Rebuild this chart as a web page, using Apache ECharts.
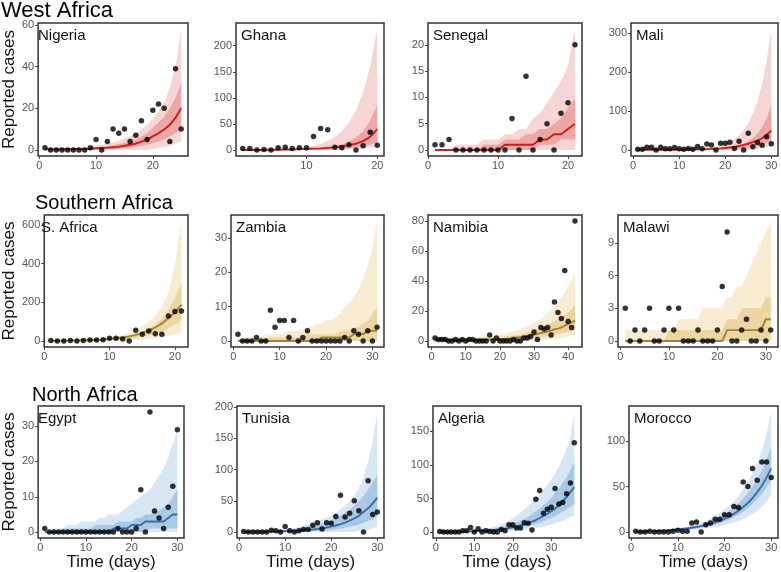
<!DOCTYPE html>
<html>
<head>
<meta charset="utf-8">
<title>Reported cases by country</title>
<script src="https://cdn.jsdelivr.net/npm/echarts@6/dist/echarts.min.js"></script>
<style>
  body { margin: 0; background: #fff; }
  #main { width: 781px; height: 572px; }
</style>
</head>
<body>
<div id="main"></div>
<script>
// daily reported cases (dots) + fitted median and 50% / 95% bands, day 1..n

// --- West Africa ---
var nigeriaObs  = [1,0,0,0,0,0,0,0,1,5,0,4,10,8,10,4,7,14,5,19,22,20,4,39,10];
var nigeriaMed  = [0.3,0.3,0.3,0.3,0.3,0.4,0.4,0.5,0.6,0.8,1,1.1,1.3,1.5,2,2.5,3,4,5,6.5,8,9.8,12,15.5,20];
var nigeriaHi95 = [1,1,1,1,1,1,1.2,1.4,1.7,2,2.5,3,3.6,4.4,5.4,6.6,8,9.8,12,15,18.5,23,30,40,58];
var nigeriaLo95 = [0,0,0,0,0,0,0,0,0,0,0,0,0,0,0,0,0,0,0,0.5,1,1.5,2,3,4];
var nigeriaHi50 = [0.8,0.8,0.8,0.8,0.8,0.8,0.8,0.8,0.9,1.2,1.5,1.8,2.2,2.7,3.3,4,5,6.5,8,10.6,13,16,20,25,32];
var nigeriaLo50 = [0,0,0,0,0,0,0,0,0.1,0.2,0.3,0.4,0.5,0.6,1,1.2,1.5,2,2.5,3.2,4,5,6.5,8,10];

var ghanaObs  = [3,3,0,1,0,4,5,3,4,4,26,41,39,5,4,10,0,8,34,9];
var ghanaMed  = [0,0,0,0,0.5,0.5,1,1,1.5,2,2.5,3,4,5,7,9,12,17,25,40];
var ghanaHi95 = [1,1,1,1.5,1.5,2,2,2.5,3.5,5.5,8,12,17,25,36,52,76,110,160,232];
var ghanaLo95 = [0,0,0,0,0,0,0,0,0,0,0,0,0,0,0,1,2,3,5,8];
var ghanaHi50 = [2,2,2,2,2,2,2,2,2,2.5,3,4,5.5,7.5,11,16,24,36,56,87];
var ghanaLo50 = [0,0,0,0,0,0,0,0,0,0,0.5,0.5,1,2,2.5,3.5,5,7,10,15];

var senegalObs  = [1,1,2,0,0,0,0,0,0,0,0,6,0,14,0,2,5,0,7,9,20];
var senegalMed  = [0,0,0,0,0,0,0,0,0,0,1,1,1,1,1,2,2,3,3,4,5];
var senegalHi95 = [0,0,0,1,1,1,1,2,2,2,3,3,4,4,6,7,9,11,13,16,23];
var senegalLo95 = [0,0,0,0,0,0,0,0,0,0,0,0,0,0,0,0,0,0,0,0,0];
var senegalHi50 = [0,0,0,0,0,0,0,1,1,1,2,2,2,3,3,4,4,5,6,8,10];
var senegalLo50 = [0,0,0,0,0,0,0,0,0,0,0,0,0,0,0,1,1,1,2,2,2];

var maliObs  = [2,2,7,7,0,7,3,3,6,3,2,4,2,9,3,15,13,0,17,17,20,4,22,0,43,8,19,12,34,16];
var maliMed  = [0.3,0.3,0.4,0.4,0.5,0.5,0.6,0.6,0.7,0.8,0.9,1,1.2,1.5,1.8,2.2,2.7,3.3,4,5,6.5,8,10,13,16,20,24,30,39,49];
var maliHi95 = [1,1,1,1,1,1,1,1,1,1.2,1.4,1.7,2,2.6,3.5,4.7,6,8.5,11,15,21,28,38,51,69,93,126,170,230,310];
var maliLo95 = [0,0,0,0,0,0,0,0,0,0,0,0,0,0,0,0,0,0,0,0,0,0,0,0,0,2,3,5,7,10];
var maliHi50 = [1,1,1,1,1,1,1,1,1,1,1,1.1,1.2,1.4,1.6,2,2.6,3.3,4.2,5.5,7,9,12,16,22,30,42,58,82,116];
var maliLo50 = [0,0,0,0,0,0,0,0,0,0,0,0,0,0.3,0.5,0.6,0.7,0.8,1,1.5,2,2.5,3.5,4.5,6,8,10,14,18,24];

// --- Southern Africa ---
var safricaObs  = [3,0,0,3,0,3,5,5,7,14,14,10,0,56,35,52,38,35,129,152,155];
var safricaMed  = [1,1.5,2,2.4,3,4,5,6,8,11,14,18,24,32,42,54,70,91,117,148,187];
var safricaHi95 = [2,3,3,4,5,6,8,10,13,17,23,31,42,56,75,100,134,178,250,390,620];
var safricaLo95 = [0,0,0,0,0,0,0,0,0,0,0.5,1,4,6,8,11,15,20,27,35,45];
var safricaHi50 = [1.5,2,3,3.5,4,5,6,7,8,11,15,20,26,35,47,63,85,115,160,222,300];
var safricaLo50 = [0.5,0.5,1,1,1.5,2,2.5,3,4,5,7,10,13,17,23,30,39,51,66,85,108];

var zambiaObs  = [2,0,0,0,1,0,0,9,4,6,6,1,6,0,1,3,0,0,0,0,0,0,0,1,0,3,2,0,3,0,4];
var zambiaMed  = [0,0,0,0,0,0,0,0,0,0,0,0,0,0,0,0,0,0,1,1,1,1,1,1,1,2,2,2,3,3,3];
var zambiaHi95 = [1,1,1,1,1,1,2,2,2,2,2,3,3,3,3,4,4,5,5,6,6,7,8,10,11,13,15,18,22,27,35];
var zambiaLo95 = [0,0,0,0,0,0,0,0,0,0,0,0,0,0,0,0,0,0,0,0,0,0,0,0,0,0,0,0,0,0,0];
var zambiaHi50 = [0,0,0,0,0,0,1,1,1,1,1,1,1,1,1,2,2,2,2,2,2,2,3,3,3,4,4,5,6,8,10];
var zambiaLo50 = [0,0,0,0,0,0,0,0,0,0,0,0,0,0,0,0,0,0,0,0,0,0,0,0,0,0,0,0,0,0,0];

var namibiaObs  = [2,1,1,1,0,0,1,0,1,0,1,1,0,0,0,0,4,0,2,0,0,0,0,1,0,0,2,2,3,6,1,9,8,9,4,26,19,15,47,13,9,80];
var namibiaMed  = [0.5,0.5,0.5,0.5,0.5,0.5,0.5,0.5,0.5,0.5,0.6,0.6,0.7,0.7,0.7,0.8,0.9,1,1,1.1,1.3,1.5,1.7,2,2.3,2.6,2.9,3.3,3.7,4.2,4.7,5.3,5.8,6.4,7,7.7,8.3,9,10.2,11.4,12.5,13.6];
var namibiaHi95 = [2,2,2,2,2,2,2,2,2,2,2,2.2,2.4,2.6,2.8,3,3.3,3.6,3.9,4.3,4.7,5.2,5.8,6.4,7.1,7.9,8.7,9.7,10.8,12,13.5,15,16.5,18.5,20.5,23,26,29,32,36,40,45];
var namibiaLo95 = [0,0,0,0,0,0,0,0,0,0,0,0,0,0,0,0,0,0,0,0,0,0,0,0,0,0,0,0,0,0,0,0.5,0.5,1,1,1.5,1.5,2,2.5,3,3.5,4];
var namibiaHi50 = [1.2,1.2,1.2,1.2,1.2,1.2,1.2,1.2,1.2,1.2,1.2,1.2,1.3,1.4,1.6,1.7,1.8,2,2.2,2.4,2.7,3,3.3,3.7,4.1,4.6,5.1,5.7,6.3,7,8,9,10,11,12,13,14.5,16,17.5,19,21,23.5];
var namibiaLo50 = [0.3,0.3,0.3,0.3,0.3,0.3,0.3,0.3,0.3,0.3,0.3,0.3,0.3,0.3,0.3,0.3,0.3,0.3,0.3,0.5,0.6,0.7,0.85,1,1.15,1.3,1.5,1.7,1.95,2.2,2.45,2.7,3,3.3,3.65,4,4.5,5,5.5,6,6.5,7];

var malawiObs  = [3,0,1,0,1,3,0,0,1,3,1,3,0,0,0,1,0,0,0,1,5,10,0,0,1,2,0,0,1,0,1];
var malawiMed  = [0,0,0,0,0,0,0,0,0,0,0,0,0,0,0,0,0,0,0,0,0,1,1,1,1,1,1,1,1,2,2];
var malawiHi95 = [1,1,1,1,1,1,1,1,1,1,1,2,2,2,2,2,3,3,3,3,3,4,4,5,5,6,7,8,9,10,11];
var malawiLo95 = [0,0,0,0,0,0,0,0,0,0,0,0,0,0,0,0,0,0,0,0,0,0,0,0,0,0,0,0,0,0,0];
var malawiHi50 = [0,0,0,0,0,0,0,0,0,1,1,1,1,1,1,1,1,1,1,1,1,2,2,2,3,3,3,3,3,4,4];
var malawiLo50 = [0,0,0,0,0,0,0,0,0,0,0,0,0,0,0,0,0,0,0,0,0,0,0,0,0,0,0,0,0,0,0];

// --- North Africa ---
var egyptObs  = [1,0,0,0,0,0,0,0,0,0,0,0,0,0,0,0,1,0,0,0,1,12,0,34,6,4,1,7,13,29];
var egyptMed  = [0,0,0,0,0,0,0,0,0,0,0,0,0,0,0,1,1,1,1,2,2,2,3,3,3,3,3,4,5,5];
var egyptHi95 = [0,0,1,1,1,2,2,2,3,3,3,3,4,4,5,5,5,6,7,8,9,10,11,12,14,16,18,21,25,29];
var egyptLo95 = [0,0,0,0,0,0,0,0,0,0,0,0,0,0,0,0,0,0,0,0,0,0,0,0,0,0,0,0,0,0];
var egyptHi50 = [0,0,0,0,1,1,1,1,1,1,1,2,2,2,2,2,3,3,3,3,4,4,5,5,6,6,7,8,10,12];
var egyptLo50 = [0,0,0,0,0,0,0,0,0,0,0,0,0,0,0,0,0,0,0,0,0,0,0,1,1,1,1,1,1,1];

var tunisiaObs  = [1,0,0,0,0,0,3,2,0,9,2,0,2,4,4,11,15,5,15,14,25,59,24,30,50,34,0,82,28,32];
var tunisiaMed  = [0.5,0.5,0.5,0.6,0.6,0.7,0.8,1,1.2,1.4,1.7,2,2.4,2.9,3.5,4.2,5,6,7.3,8.8,10.5,12.7,15.3,18.5,22,26,32,38,46,55];
var tunisiaHi95 = [2,2,2,2,2,2,3,3.5,4,5,6,7,8.5,10,12,14.5,17,20,23,27,31,36,42,49,58,71,88,112,145,192];
var tunisiaLo95 = [0,0,0,0,0,0,0,0,0,0,0,0,0,0,0,0,0,0,0,0,0,0,0,0,0,2,3,4,6,8];
var tunisiaHi50 = [1.5,1.5,1.5,1.5,1.5,1.5,1.5,2,2.5,3,3.5,4.5,5.5,6.5,8,9.5,11.5,13.5,16,19,22,26,31,36,42,49,58,68,80,92];
var tunisiaLo50 = [0,0,0,0,0,0,0,0,0,0.2,0.3,0.5,0.7,0.9,1.2,1.6,2,2.5,3,3.8,4.6,5.7,7,8.5,10,12,15,18,21,25];

var algeriaObs  = [1,0,0,0,0,0,2,2,7,0,5,0,2,1,0,0,4,2,11,11,6,6,14,13,3,49,62,28,34,37,65,42,44,57,73,133];
var algeriaMed  = [0.5,0.5,0.5,0.6,0.6,0.7,0.8,0.9,1,1.3,1.6,1.9,2.2,2.6,3.1,3.7,4.3,5.1,6,7.2,8.5,10,11.4,13.4,15.5,18,21,24,27,31,35,40,46,52,60,67];
var algeriaHi95 = [1.5,1.5,1.5,1.5,1.5,1.5,2,2.5,3,3.5,4,4.5,5.5,6.5,8,9.5,11.5,14,17,21,25,29,34,39,44,50,55,63,70,78,87,98,110,124,140,179];
var algeriaLo95 = [0,0,0,0,0,0,0,0,0,0,0,0,0,0,0,0,0,1,1.4,1.8,2.2,2.7,3.3,4,5,6,7,8,9.5,11,13,15,17,20,23,25];
var algeriaHi50 = [1.5,1.5,1.5,1.5,1.5,1.5,1.5,1.5,2,2.3,2.7,3.2,3.8,4.5,5.3,6.3,7.5,9,10.5,12.5,14.5,17,20,23,27,31,35,40,45,51,58,65,73,82,92,104];
var algeriaLo50 = [0.3,0.3,0.3,0.3,0.4,0.4,0.5,0.5,0.6,0.7,0.8,1,1.2,1.5,1.8,2.2,2.7,3.2,3.9,4.6,5.5,6.5,7.7,9,10.5,12,14,16,18.5,21,24,27,30,34,38,42];

var moroccoObs  = [1,0,0,1,0,0,0,0,1,2,1,1,10,11,0,8,10,14,14,19,19,28,27,55,50,70,57,77,77,60];
var moroccoMed  = [0.5,0.6,0.7,0.8,1,1.5,1.8,2.1,2.5,3,3.5,4.1,4.8,5.6,6.6,7.7,9,10.5,12.5,14.5,17,20,23.5,27.5,32,37.5,44,51,60,70];
var moroccoHi95 = [1,1,1.2,1.4,1.7,2,2.4,2.9,3.5,4.2,5,6,7.3,8.8,10.5,12.5,15,18,21,25,29,34,40,47,55,64,76,90,108,132];
var moroccoLo95 = [0.2,0.2,0.3,0.3,0.4,0.5,0.6,0.8,1,1.3,1.6,1.9,2.3,2.8,3.4,4,4.8,5.7,6.7,7.8,9,10.5,12.3,14.5,17,20,23.5,27.5,34,42];
var moroccoHi50 = [0.8,0.9,1,1.2,1.5,1.8,2.2,2.6,3.2,3.8,4.5,5.3,6.3,7.4,8.7,10.2,12,14,16.5,19.5,23,27,31.5,37,43,50,58,68,80,93];
var moroccoLo50 = [0.3,0.4,0.5,0.6,0.7,0.9,1.1,1.4,1.7,2.1,2.5,3,3.6,4.3,5.1,6,7.1,8.4,10,11.8,13.8,16.2,19,22.5,26.5,31,36,42,49,57];

// box = [left, top, width, height] of each panel in px
var panels = [
  {name:'Nigeria',   reg:'west',  obs:nigeriaObs, med:nigeriaMed, hi95:nigeriaHi95, lo95:nigeriaLo95, hi50:nigeriaHi50, lo50:nigeriaLo50, xt:[0,10,20], yt:[0,20,40,60], box:[33,23,155,133]},
  {name:'Ghana',     reg:'west',  obs:ghanaObs, med:ghanaMed, hi95:ghanaHi95, lo95:ghanaLo95, hi50:ghanaHi50, lo50:ghanaLo50, xt:[10,20], yt:[0,50,100,150,200], box:[236,23,148,133]},
  {name:'Senegal',   reg:'west',  obs:senegalObs, med:senegalMed, hi95:senegalHi95, lo95:senegalLo95, hi50:senegalHi50, lo50:senegalLo50, xt:[0,10,20], yt:[0,5,10,15,20], box:[428,23,154,133]},
  {name:'Mali',      reg:'west',  obs:maliObs, med:maliMed, hi95:maliHi95, lo95:maliLo95, hi50:maliHi50, lo50:maliLo50, xt:[0,10,20,30], yt:[0,100,200,300], box:[631,23,147,133]},
  {name:'S. Africa', reg:'south', obs:safricaObs, med:safricaMed, hi95:safricaHi95, lo95:safricaLo95, hi50:safricaHi50, lo50:safricaLo50, xt:[0,10,20], yt:[0,200,400,600], box:[36,215,152,132]},
  {name:'Zambia',    reg:'south', obs:zambiaObs, med:zambiaMed, hi95:zambiaHi95, lo95:zambiaLo95, hi50:zambiaHi50, lo50:zambiaLo50, xt:[0,10,20,30], yt:[0,10,20,30], box:[231,215,153,132]},
  {name:'Namibia',   reg:'south', obs:namibiaObs, med:namibiaMed, hi95:namibiaHi95, lo95:namibiaLo95, hi50:namibiaHi50, lo50:namibiaLo50, xt:[0,10,20,30,40], yt:[0,20,40,60,80], box:[428,215,154,132]},
  {name:'Malawi',    reg:'south', obs:malawiObs, med:malawiMed, hi95:malawiHi95, lo95:malawiLo95, hi50:malawiHi50, lo50:malawiLo50, xt:[0,10,20,30], yt:[0,3,6,9], box:[618,215,160,132]},
  {name:'Egypt',     reg:'north', obs:egyptObs, med:egyptMed, hi95:egyptHi95, lo95:egyptLo95, hi50:egyptHi50, lo50:egyptLo50, xt:[0,10,20,30], yt:[0,10,20,30], box:[33,406,151,135]},
  {name:'Tunisia',   reg:'north', obs:tunisiaObs, med:tunisiaMed, hi95:tunisiaHi95, lo95:tunisiaLo95, hi50:tunisiaHi50, lo50:tunisiaLo50, xt:[0,10,20,30], yt:[0,50,100,150,200], box:[237,406,147,135]},
  {name:'Algeria',   reg:'north', obs:algeriaObs, med:algeriaMed, hi95:algeriaHi95, lo95:algeriaLo95, hi50:algeriaHi50, lo50:algeriaLo50, xt:[0,10,20,30], yt:[0,50,100,150], box:[433,406,148,135]},
  {name:'Morocco',   reg:'north', obs:moroccoObs, med:moroccoMed, hi95:moroccoHi95, lo95:moroccoLo95, hi50:moroccoHi50, lo50:moroccoLo50, xt:[0,10,20,30], yt:[0,50,100], box:[629,406,149,135]}
];

var colors = {
  west:  {outer:'#f8d5d5', inner:'#eda6a6', line:'#c81e1e'},
  south: {outer:'#f7ebd0', inner:'#ebd5a3', line:'#a5822b'},
  north: {outer:'#d7e6f4', inner:'#a9c8e6', line:'#3a6ea5'}
};
var font = 'Liberation Sans, Arial, Helvetica, sans-serif';

function pairs(arr) {
  return arr.map(function (v, i) { return [i + 1, v]; });
}

// ribbon between lo and hi, drawn as one polygon through the axis scales
function band(k, lo, hi, color, z) {
  return {
    type: 'custom', xAxisIndex: k, yAxisIndex: k, silent: true, z: z,
    data: lo.map(function (v, i) { return [i + 1, v, hi[i]]; }),
    encode: {x: 0, y: [1, 2]},
    renderItem: function (params, api) {
      if (params.dataIndex !== 0) return null;
      var pts = [], i;
      for (i = 0; i < hi.length; i++) pts.push(api.coord([i + 1, hi[i]]));
      for (i = lo.length - 1; i >= 0; i--) pts.push(api.coord([i + 1, lo[i]]));
      return {type: 'polygon', shape: {points: pts}, style: {fill: color}};
    }
  };
}

var grids = [], xAxes = [], yAxes = [], series = [], texts = [];

panels.forEach(function (p, k) {
  var c = colors[p.reg];
  var n = p.obs.length;
  var ymax = Math.max(Math.max.apply(null, p.obs), Math.max.apply(null, p.hi95));
  var padX = 0.05 * (n - 1), padY = 0.05 * ymax;
  var firstCol = (k % 4 === 0), lastRow = (k >= 8);

  grids.push({
    left: p.box[0], top: p.box[1], width: p.box[2], height: p.box[3],
    show: true, borderColor: '#333', borderWidth: 1.5, backgroundColor: '#fff'
  });
  xAxes.push({
    gridIndex: k, type: 'value', min: 1 - padX, max: n + padX,
    axisLine: {show: false, onZero: false},
    axisTick: {show: true, customValues: p.xt, length: 3, lineStyle: {color: '#444'}},
    axisLabel: {customValues: p.xt, color: '#555', fontSize: 11, margin: 4, fontFamily: font},
    splitLine: {show: false},
    name: lastRow ? 'Time (days)' : '', nameLocation: 'middle', nameGap: 12,
    nameTextStyle: {fontSize: 17, color: '#111', fontFamily: font}
  });
  yAxes.push({
    gridIndex: k, type: 'value', min: -padY, max: ymax + padY,
    axisLine: {show: false, onZero: false},
    axisTick: {show: true, customValues: p.yt, length: 3, lineStyle: {color: '#444'}},
    axisLabel: {customValues: p.yt, color: '#555', fontSize: 11, margin: 4, fontFamily: font},
    splitLine: {show: false},
    name: firstCol ? 'Reported cases' : '', nameLocation: 'middle', nameGap: p.box[0] - 22,
    nameTextStyle: {fontSize: 17, color: '#111', fontFamily: font}
  });

  series.push(band(k, p.lo95, p.hi95, c.outer, 1));
  series.push(band(k, p.lo50, p.hi50, c.inner, 2));
  series.push({type: 'line', xAxisIndex: k, yAxisIndex: k, data: pairs(p.med), symbol: 'none',
    lineStyle: {color: c.line, width: 1.9}, silent: true, z: 3});
  series.push({type: 'scatter', xAxisIndex: k, yAxisIndex: k, data: pairs(p.obs), symbolSize: 5.5,
    itemStyle: {color: '#000'}, silent: true, z: 4});

  texts.push({type: 'text', x: p.box[0] + 5, y: p.box[1] + 13, z: 10,
    style: {text: p.name, fontSize: 15, fill: '#111', fontFamily: font, verticalAlign: 'middle'}});
});

[['West Africa', 1, 11, 22], ['Southern Africa', 35, 203, 20], ['North Africa', 32, 395, 20]].forEach(function (t) {
  texts.push({type: 'text', x: t[1], y: t[2], z: 10,
    style: {text: t[0], fontSize: t[3], fill: '#000', fontFamily: font, verticalAlign: 'middle'}});
});

var chart = echarts.init(document.getElementById('main'));
var option = {
  backgroundColor: '#fff',
  animation: false,
  grid: grids,
  xAxis: xAxes,
  yAxis: yAxes,
  series: series,
  graphic: texts
};
chart.setOption(option);
</script>
</body>
</html>
